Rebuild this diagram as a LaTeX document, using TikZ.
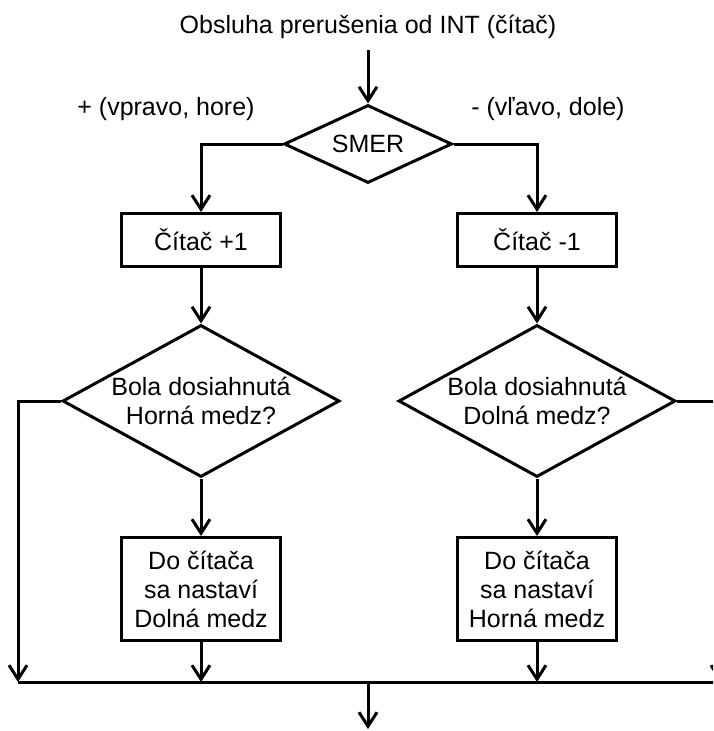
\documentclass[tikz,border=0pt]{standalone}
\usepackage{fontspec}
\setmainfont{Liberation Sans}
\usetikzlibrary{shapes.geometric,arrows.meta,positioning}

\begin{document}
\begin{tikzpicture}[x=1pt,y=-1pt,line width=3pt,
  >={Straight Barb[length=14pt,width=18pt]},
  every node/.style={font=\fontsize{25}{29}\selectfont},
  blok/.style={draw,rectangle,minimum width=159pt,inner sep=0pt,align=center},
  rozh/.style={draw,diamond,inner sep=0pt,align=center}]
  \useasboundingbox (0,0) rectangle (713,731);
  \clip (0,0) rectangle (713,731);
  \node[anchor=base] (nadpis) at (368,33) {Obsluha prerušenia od INT (čítač)};
  \node[anchor=base] (plus) at (166,115) {+ (vpravo, hore)};
  \node[anchor=base] (minus) at (548,115) {- (vľavo, dole)};
  \node[rozh,shape aspect=2.15,minimum width=168pt,minimum height=78pt] (smer) at (368,144) {SMER};
  \node[blok,minimum height=53pt] (cplus) at (201,240) {Čítač +1};
  \node[blok,minimum height=53pt] (cminus) at (537,240) {Čítač -1};
  \node[rozh,shape aspect=1.82,minimum width=277pt,minimum height=152pt] (horna) at (201,401) {Bola dosiahnutá\\Horná medz?};
  \node[rozh,shape aspect=1.82,minimum width=277pt,minimum height=152pt] (dolna) at (537,401) {Bola dosiahnutá\\Dolná medz?};
  \node[blok,minimum height=103pt] (nastD) at (201,589) {Do čítača\\sa nastaví\\Dolná medz};
  \node[blok,minimum height=103pt] (nastH) at (537,589) {Do čítača\\sa nastaví\\Horná medz};
  \coordinate (start) at (368,50);
  \coordinate (zlL) at (18,682);
  \coordinate (zlR) at (720,682);
  \coordinate (zl) at (368,682);
  \coordinate (koniec) at (368,729);
  % vetvenie podla smeru
  \draw[->] (start) -- (smer);
  \draw[->] (smer.west) -| (cplus);
  \draw[->] (smer.east) -| (cminus);
  \draw[->] (cplus) -- (horna);
  \draw[->] (cminus) -- (dolna);
  \draw[->] (horna) -- (nastD);
  \draw[->] (dolna) -- (nastH);
  % spojenie vetiev
  \draw[->] (horna.west) -| (zlL);
  \draw[->] (dolna.east) -| (zlR);
  \draw[->] (nastD) -- (nastD |- zl);
  \draw[->] (nastH) -- (nastH |- zl);
  \draw (zlL) -- (zlR);
  \draw[->] (zl) -- (koniec);
\end{tikzpicture}
\end{document}
